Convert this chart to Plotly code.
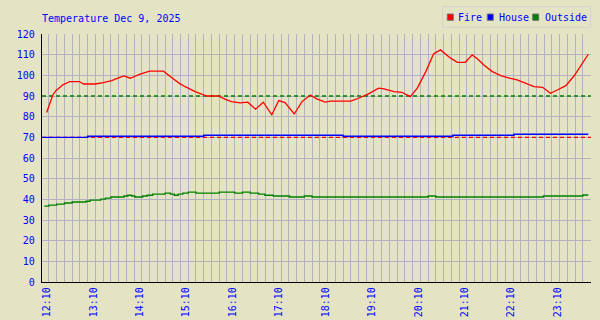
import plotly.graph_objects as go

DAY = "2025-12-09 "

fire_times = ["12:07", "12:15", "12:19", "12:28", "12:37", "12:49", "12:55", "13:10", "13:20",
              "13:31", "13:39", "13:47", "13:55", "14:07", "14:20", "14:38", "14:48", "14:59",
              "15:06", "15:19", "15:34", "15:49", "15:58", "16:06", "16:17", "16:27", "16:37",
              "16:47", "16:58", "17:07", "17:15", "17:27", "17:37", "17:48", "17:56", "18:07",
              "18:14", "18:40", "18:50", "19:03", "19:16", "19:23", "19:36", "19:46", "19:57",
              "20:06", "20:17", "20:27", "20:36", "20:43", "20:49", "20:58", "21:08", "21:17",
              "21:24", "21:32", "21:43", "21:54", "22:05", "22:15", "22:26", "22:37", "22:48",
              "22:58", "23:07", "23:18", "23:29", "23:39", "23:47"]
fire_values = [82.0, 90.5, 92.6, 95.4, 97.0, 97.0, 95.8, 95.8, 96.5,
               97.4, 98.6, 99.7, 98.6, 100.5, 102.0, 102.0, 99.1, 96.0,
               94.5, 92.1, 90.0, 90.0, 88.4, 87.3, 86.7, 87.0, 83.6,
               87.0, 80.9, 87.8, 86.8, 81.3, 87.3, 90.5, 88.6, 87.0,
               87.5, 87.5, 88.9, 91.0, 93.8, 93.4, 92.1, 91.8, 89.7,
               93.8, 101.8, 110.3, 112.3, 110.3, 108.3, 106.3, 106.3, 109.9,
               107.9, 105.0, 101.8, 99.9, 98.6, 97.8, 96.2, 94.5, 94.2,
               91.3, 92.9, 95.0, 99.9, 105.8, 110.2]

house_times = ["12:01", "13:00", "15:30", "18:30", "20:52", "22:11", "23:47"]
house_values = [70.0, 70.5, 71.0, 70.5, 71.0, 71.5, 71.5]

outside_times = ["12:04", "12:10", "12:20", "12:30", "12:40", "12:58", "13:03", "13:17", "13:23",
                 "13:30", "13:47", "13:52", "13:57", "14:01", "14:11", "14:17", "14:24", "14:40",
                 "14:47", "14:52", "14:57", "15:03", "15:10", "15:20", "15:50", "16:10", "16:20",
                 "16:30", "16:41", "16:49", "17:00", "17:21", "17:40", "17:50", "20:20", "20:30",
                 "22:49", "23:40", "23:47"]
outside_values = [36.7, 37.2, 37.7, 38.2, 38.7, 39.1, 39.6, 40.1, 40.6,
                  41.1, 41.6, 42.0, 41.6, 41.1, 41.6, 42.0, 42.5, 43.0,
                  42.5, 42.0, 42.5, 43.0, 43.5, 43.0, 43.5, 43.0, 43.5,
                  43.0, 42.5, 42.0, 41.6, 41.1, 41.6, 41.1, 41.6, 41.1,
                  41.6, 42.1, 42.1]

fire_high_threshold = 90
fire_low_threshold = 70

x_range = ["12:01", "23:50:30"]

series_names = ["Fire", "House", "Outside"]
series_colors = ["#FF0000", "#0000FF", "#008000"]

title_text = "Temperature Dec 9, 2025"

BG = "#E4E4C5"
GRID = "#B2B2C2"
TXT = "#0000FF"
FONT = "DejaVu Sans Mono"

W, H = 600, 320
ML, MR, MT, MB = 42, 9, 34, 38
PW, PH = W - ML - MR, H - MT - MB


def px(x):
    return (x - ML) / PW


def py(y):
    return (H - MB - y) / PH


def ts(lst):
    return [DAY + t for t in lst]


fig = go.Figure()
# threshold reference lines (drawn first so data lines sit on top)
fig.add_trace(go.Scatter(x=ts(x_range), y=[fire_high_threshold] * 2, mode="lines", hoverinfo="skip",
                         line=dict(color="#008000", width=1.4, dash="4px,3px"), showlegend=False))
fig.add_trace(go.Scatter(x=ts(x_range), y=[fire_low_threshold] * 2, mode="lines", hoverinfo="skip",
                         line=dict(color="#FF0000", width=1.4, dash="4px,3px"), showlegend=False))

fig.add_trace(go.Scatter(x=ts(fire_times), y=fire_values, mode="lines", name=series_names[0],
                         line=dict(color=series_colors[0], width=1.3), showlegend=False))
fig.add_trace(go.Scatter(x=ts(house_times), y=house_values, mode="lines", name=series_names[1],
                         line=dict(color=series_colors[1], width=1.4, shape="hv"), showlegend=False))
fig.add_trace(go.Scatter(x=ts(outside_times), y=outside_values, mode="lines", name=series_names[2],
                         line=dict(color=series_colors[2], width=1.4, shape="hv"), showlegend=False))

shapes = [
    # legend box
    dict(type="rect", xref="paper", yref="paper", x0=px(442.7), x1=px(590.7), y0=py(27.3), y1=py(6.7),
         line=dict(color="#D2D2CC", width=1), fillcolor="rgba(0,0,0,0)", layer="above"),
]
annotations = []
sq_left = [447.3, 487.3, 532.7]
txt_left = [456.3, 496.7, 542.7]
for name, col, sx, tx in zip(series_names, series_colors, sq_left, txt_left):
    shapes.append(dict(type="rect", xref="paper", yref="paper", x0=px(sx), x1=px(sx + 6),
                       y0=py(20.3), y1=py(14), line=dict(color="#707070", width=1),
                       fillcolor=col, layer="above"))
    annotations.append(dict(text=name, xref="paper", yref="paper", x=px(tx), y=py(17.5),
                            xanchor="left", yanchor="middle", showarrow=False,
                            font=dict(family=FONT, size=10, color=TXT)))

fig.update_layout(
    width=W, height=H,
    margin=dict(l=ML, r=MR, t=MT, b=MB, pad=0),
    paper_bgcolor=BG, plot_bgcolor=BG,
    font=dict(family=FONT, size=10, color=TXT),
    title=dict(text=title_text, x=0, xref="paper", xanchor="left",
               y=1 - 18 / H, yref="container", yanchor="middle",
               font=dict(family=FONT, size=10, color=TXT)),
    showlegend=False,
    hovermode=False,
    shapes=shapes,
    annotations=annotations,
    xaxis=dict(
        type="date", automargin=False,
        range=ts(x_range),
        tick0=DAY + "12:10", dtick=3600000, tickformat="%H:%M",
        tickangle=-90, showgrid=True, gridcolor=GRID, gridwidth=1,
        minor=dict(dtick=600000, tick0=DAY + "12:10", showgrid=True, gridcolor=GRID, gridwidth=1),
        showline=True, linecolor="black", linewidth=1.3, zeroline=False,
        tickfont=dict(family=FONT, size=10, color=TXT), ticks="",
        ticklabelshift=-2, ticklabelstandoff=0,
    ),
    yaxis=dict(
        range=[0, 120], dtick=10, tick0=0, automargin=False,
        showgrid=True, gridcolor=GRID, gridwidth=1,
        showline=True, linecolor="black", linewidth=1.3, zeroline=False,
        tickfont=dict(family=FONT, size=10, color=TXT), ticks="",
        ticklabelstandoff=4,
    ),
)

fig.write_html("out.html")
